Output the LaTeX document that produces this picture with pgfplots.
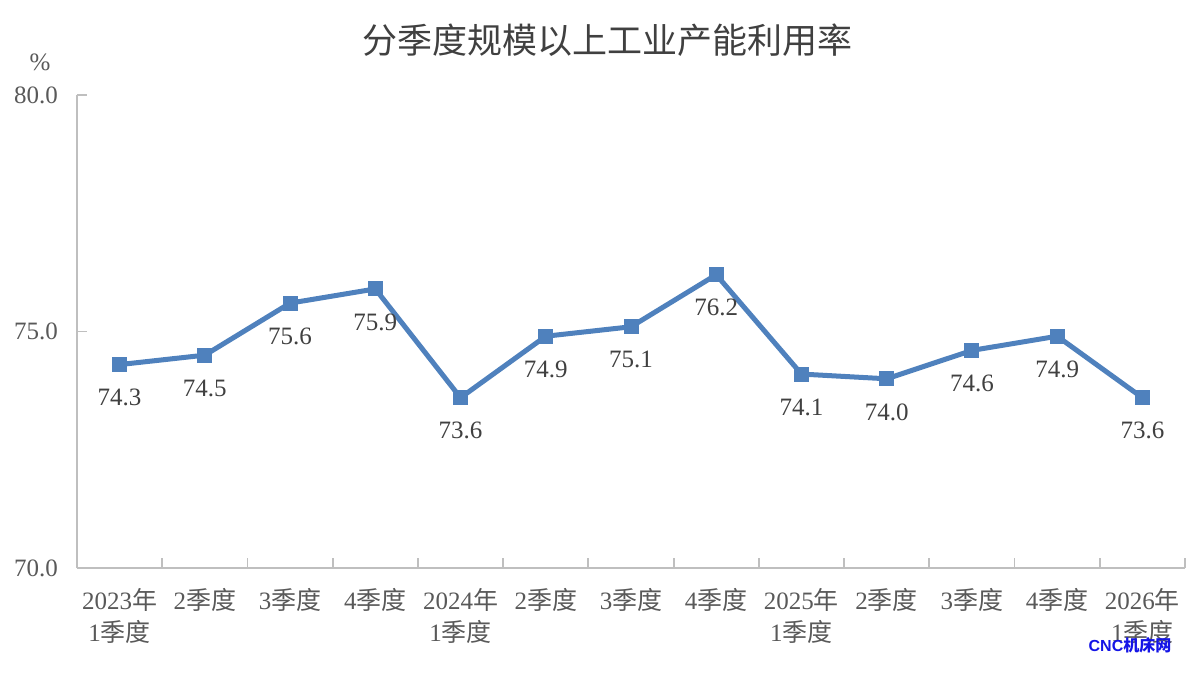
\documentclass[border=0pt]{standalone}
\usepackage{fontspec}
\setmainfont{Liberation Serif}
\newfontfamily\cjk{Noto Sans CJK SC}
\newfontfamily\wmfont{Liberation Sans}
\usepackage{pgfplots}
\pgfplotsset{compat=1.18}
\newcommand\zh[1]{{\cjk #1}}
\definecolor{linecol}{RGB}{79,129,189}
\definecolor{axcol}{RGB}{191,191,191}
\definecolor{txtcol}{RGB}{89,89,89}
\definecolor{lblcol}{RGB}{64,64,64}
\begin{document}
\begin{tikzpicture}
\useasboundingbox (-38.5pt,-53pt) rectangle (561.5pt,284pt);
\begin{axis}[
  width=554pt, height=236.5pt, scale only axis,
  xmin=-0.5, xmax=12.5, ymin=70, ymax=80,
  axis lines*=left,
  axis line style={draw=axcol, line width=0.9pt},
  xtick={0,...,12},
  xticklabels={
    {2023\zh{年}\\1\zh{季度}}, {2\zh{季度}}, {3\zh{季度}}, {4\zh{季度}},
    {2024\zh{年}\\1\zh{季度}}, {2\zh{季度}}, {3\zh{季度}}, {4\zh{季度}},
    {2025\zh{年}\\1\zh{季度}}, {2\zh{季度}}, {3\zh{季度}}, {4\zh{季度}},
    {2026\zh{年}\\1\zh{季度}}},
  x tick style={draw=none},
  minor xtick={-0.5,0.5,...,12.5},
  minor x tick style={draw=axcol, line width=0.9pt},
  minor tick length=5pt,
  ytick={70,75,80},
  y tick style={draw=axcol, line width=0.9pt},
  major tick length=5pt,
  tick align=inside,
  yticklabel style={/pgf/number format/fixed, /pgf/number format/fixed zerofill, /pgf/number format/precision=1, /pgf/number format/assume math mode=true, xshift=-6pt},
  ticklabel style={font=\fontsize{12.5}{16}\selectfont, text=txtcol},
  xticklabel style={align=center, anchor=north, yshift=-6.5pt},
  title={\zh{分季度规模以上工业产能利用率}},
  title style={at={(0.479,1)}, anchor=center, yshift=21.5pt, font=\fontsize{17.5}{20}\selectfont, text=lblcol},
  clip=false,
  nodes near coords={\pgfmathprintnumber[fixed,fixed zerofill,precision=1,assume math mode=true]{\pgfplotspointmeta}},
  every node near coord/.append style={anchor=north, yshift=-9pt, font=\fontsize{12.5}{15}\selectfont, text=lblcol},
]
\addplot[color=linecol, line width=2.5pt, mark=square*, mark size=3.5pt, mark options={solid, fill=linecol, line width=0pt}] coordinates {
  (0,74.3) (1,74.5) (2,75.6) (3,75.9) (4,73.6) (5,74.9) (6,75.1)
  (7,76.2) (8,74.1) (9,74.0) (10,74.6) (11,74.9) (12,73.6)
};
\node[anchor=center, text=txtcol, font=\fontsize{12.5}{15}\selectfont] at (rel axis cs:0,1) [xshift=-18.5pt, yshift=16.5pt] {\%};
\node[anchor=center, text={rgb,255:red,20;green,20;blue,230}, font=\wmfont\bfseries\fontsize{8}{10}\selectfont] at (rel axis cs:0,0) [xshift=526.5pt, yshift=-38.5pt] {CNC\zh{机床网}};
\end{axis}
\end{tikzpicture}
\end{document}
